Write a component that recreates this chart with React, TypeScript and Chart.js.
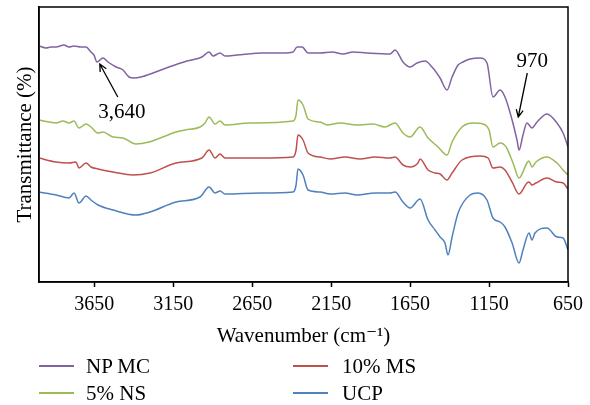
import React, { useEffect, useRef } from "react";
import { Chart, registerables } from "chart.js";

Chart.register(...registerables);

// ---- data (wavenumber in cm^-1, transmittance in arbitrary offset units) ----
const npmcWave = [4000, 3956, 3924, 3892, 3842, 3810, 3778, 3734, 3702, 3671, 3652, 3633, 3595, 3563, 3512, 3468, 3430, 3398, 3354, 3278, 3177, 3063, 2968, 2923, 2898, 2854, 2822, 2746, 2581, 2455, 2391, 2366, 2334, 2296, 2220, 2144, 2075, 2011, 1923, 1777, 1745, 1695, 1650, 1606, 1555, 1511, 1460, 1416, 1384, 1346, 1315, 1270, 1207, 1163, 1125, 1080, 1049, 1004, 973, 960, 935, 910, 878, 846, 783, 720, 681, 650];
const npmcT = [236, 234, 235, 235, 237, 235, 236, 235, 235, 230, 227, 220, 224, 220, 215, 212, 205, 204, 205, 209, 215, 221, 225, 230, 226, 229, 226, 227, 229, 229, 230, 235, 235, 229, 229, 230, 228, 230, 229, 228, 232, 220, 215, 219, 221, 215, 204, 192, 205, 217, 220, 223, 224, 219, 185, 192, 185, 162, 142, 132, 147, 159, 154, 160, 168, 159, 149, 135];

const ns5Wave = [4000, 3937, 3892, 3848, 3810, 3778, 3747, 3702, 3671, 3626, 3595, 3531, 3468, 3386, 3303, 3132, 3075, 2980, 2949, 2923, 2885, 2854, 2822, 2664, 2391, 2372, 2360, 2328, 2296, 2220, 2176, 2094, 1986, 1885, 1809, 1745, 1695, 1650, 1587, 1536, 1473, 1416, 1384, 1321, 1251, 1188, 1150, 1125, 1080, 1042, 998, 960, 910, 897, 878, 853, 783, 720, 681, 650];
const ns5T = [162, 160, 159, 161, 159, 161, 154, 158, 155, 149, 150, 145, 144, 138, 140, 150, 152, 155, 159, 165, 158, 161, 157, 159, 161, 167, 182, 177, 163, 160, 157, 159, 157, 158, 155, 159, 149, 145, 155, 144, 135, 127, 140, 155, 159, 158, 152, 135, 139, 135, 119, 104, 119, 121, 115, 120, 125, 119, 112, 107];

const ms10Wave = [4000, 3892, 3810, 3766, 3747, 3702, 3671, 3626, 3531, 3405, 3297, 3132, 2968, 2923, 2885, 2854, 2822, 2600, 2391, 2372, 2360, 2328, 2296, 2220, 2157, 2062, 1967, 1872, 1777, 1745, 1695, 1650, 1600, 1587, 1536, 1492, 1460, 1416, 1384, 1321, 1207, 1156, 1125, 1080, 1049, 1004, 960, 910, 897, 878, 853, 783, 720, 681, 650];
const ms10T = [124, 120, 119, 120, 114, 119, 115, 113, 110, 107, 109, 119, 124, 132, 124, 128, 124, 124, 125, 132, 147, 142, 129, 125, 123, 125, 123, 125, 124, 125, 117, 115, 119, 123, 112, 109, 108, 102, 109, 122, 126, 124, 114, 115, 112, 100, 88, 99, 100, 97, 99, 104, 100, 99, 93];

const ucpWave = [4000, 3892, 3810, 3778, 3747, 3702, 3671, 3626, 3531, 3386, 3297, 3132, 2980, 2923, 2885, 2854, 2822, 2600, 2391, 2372, 2360, 2328, 2296, 2220, 2157, 2062, 1986, 1872, 1777, 1745, 1695, 1650, 1587, 1536, 1492, 1460, 1429, 1410, 1384, 1346, 1270, 1220, 1163, 1125, 1080, 1049, 1004, 960, 935, 897, 878, 859, 783, 720, 681, 650];
const ucpT = [90, 87, 84, 89, 79, 86, 82, 77, 72, 67, 70, 80, 85, 95, 89, 91, 88, 89, 90, 97, 113, 107, 92, 90, 88, 89, 87, 89, 89, 90, 80, 74, 83, 62, 52, 45, 39, 27, 45, 69, 87, 89, 82, 64, 60, 55, 39, 19, 32, 49, 42, 49, 54, 45, 44, 32];

const seriesNames = ["NP MC", "5% NS", "10% MS", "UCP"];
const seriesColors = ["#8064A2", "#9BBB59", "#C0504D", "#4F81BD"];
const xTicks = [3650, 3150, 2650, 2150, 1650, 1150, 650];

// annotation arrows: tip position in data units
const annoLabels = ["3,640", "970"];
const annoWave = [3615, 965];
const annoVal = [218, 165];

const SERIF = "'Liberation Serif', 'DejaVu Serif', serif";

const toPoints = (w: number[], t: number[]) => w.map((x, i) => ({ x, y: t[i] }));

const overlayPlugin = {
  id: "overlay",
  afterDatasetsDraw(chart: any) {
    const { ctx, chartArea: a, scales } = chart;
    ctx.save();
    ctx.strokeStyle = "#000";
    ctx.lineWidth = 1.5;
    ctx.strokeRect(a.left, a.top, a.right - a.left, a.bottom - a.top);

    const tails = [[18, 33], [9, -44]];
    const texts = [[22, 48], [14, -56]];
    ctx.font = `21px ${SERIF}`;
    ctx.fillStyle = "#000";
    ctx.textAlign = "center";
    ctx.textBaseline = "middle";
    ctx.lineWidth = 1.3;
    annoLabels.forEach((lab, i) => {
      const tx = scales.x.getPixelForValue(annoWave[i]);
      const ty = scales.y.getPixelForValue(annoVal[i]);
      const sx = tx + tails[i][0];
      const sy = ty + tails[i][1];
      ctx.beginPath();
      ctx.moveTo(sx, sy);
      ctx.lineTo(tx, ty);
      const ang = Math.atan2(ty - sy, tx - sx);
      const L = 8;
      ctx.moveTo(tx - L * Math.cos(ang - 0.45), ty - L * Math.sin(ang - 0.45));
      ctx.lineTo(tx, ty);
      ctx.lineTo(tx - L * Math.cos(ang + 0.45), ty - L * Math.sin(ang + 0.45));
      ctx.stroke();
      ctx.fillText(lab, tx + texts[i][0], ty + texts[i][1]);
    });
    ctx.restore();
  },
};

export default function App() {
  const ref = useRef<HTMLCanvasElement | null>(null);

  useEffect(() => {
    if (!ref.current) return;
    const waves = [npmcWave, ns5Wave, ms10Wave, ucpWave];
    const vals = [npmcT, ns5T, ms10T, ucpT];
    const chart = new Chart(ref.current, {
      type: "line",
      data: {
        datasets: seriesNames.map((name, i) => ({
          label: name,
          data: toPoints(waves[i], vals[i]),
          borderColor: seriesColors[i],
          backgroundColor: seriesColors[i],
          borderWidth: 1.5,
          pointRadius: 0,
          cubicInterpolationMode: "monotone",
          fill: false,
        })),
      },
      options: {
        animation: false,
        responsive: false,
        maintainAspectRatio: false,
        layout: { padding: { left: 0, right: 22, top: 7, bottom: 56 } },
        plugins: {
          legend: { display: false },
          tooltip: { enabled: false },
        },
        scales: {
          x: {
            type: "linear",
            reverse: true,
            min: 650,
            max: 4000,
            afterBuildTicks: (scale: any) => {
              scale.ticks = xTicks.map((v) => ({ value: v }));
            },
            afterFit: (scale: any) => {
              scale.height = 67;
            },
            grid: {
              display: true,
              drawOnChartArea: false,
              drawTicks: true,
              tickLength: 5,
              tickWidth: 1.5,
              tickColor: "#000",
              color: "#000",
            },
            border: { display: true, color: "#000", width: 1.5 },
            ticks: {
              color: "#000",
              padding: 6,
              maxRotation: 0,
              autoSkip: false,
              font: { family: SERIF, size: 20 },
              callback: (v: any) => String(v),
            },
            title: {
              display: true,
              text: "Wavenumber (cm⁻¹)",
              color: "#000",
              font: { family: SERIF, size: 21 },
              padding: { top: 0, bottom: 0 },
            },
          },
          y: {
            min: 0,
            max: 275,
            afterFit: (scale: any) => {
              scale.width = 39;
            },
            grid: { display: false },
            border: { display: true, color: "#000", width: 1.5 },
            ticks: { display: false },
            title: {
              display: true,
              text: "Transmittance (%)",
              color: "#000",
              font: { family: SERIF, size: 21 },
              padding: { top: 13, bottom: 0 },
            },
          },
        },
      },
      plugins: [overlayPlugin],
    } as any);
    return () => chart.destroy();
  }, []);

  const legendPos = [
    { lx: 39, tx: 86, y: 366, top: 354 },
    { lx: 39, tx: 86, y: 393, top: 381 },
    { lx: 293, tx: 342, y: 366, top: 354 },
    { lx: 293, tx: 342, y: 393, top: 381 },
  ];

  return (
    <div style={{ position: "absolute", left: 0, top: 0, width: 590, height: 405, background: "#fff" }}>
      <canvas ref={ref} width={590} height={405} style={{ width: 590, height: 405, display: "block" }} />
      {seriesNames.map((name, i) => (
        <React.Fragment key={name}>
          <div
            style={{
              position: "absolute",
              left: legendPos[i].lx,
              top: legendPos[i].y - 1,
              width: 35,
              height: 2,
              background: seriesColors[i],
            }}
          />
          <div
            style={{
              position: "absolute",
              left: legendPos[i].tx,
              top: legendPos[i].top,
              fontFamily: SERIF,
              fontSize: 21,
              lineHeight: "24px",
              color: "#000",
              whiteSpace: "nowrap",
            }}
          >
            {name}
          </div>
        </React.Fragment>
      ))}
    </div>
  );
}
